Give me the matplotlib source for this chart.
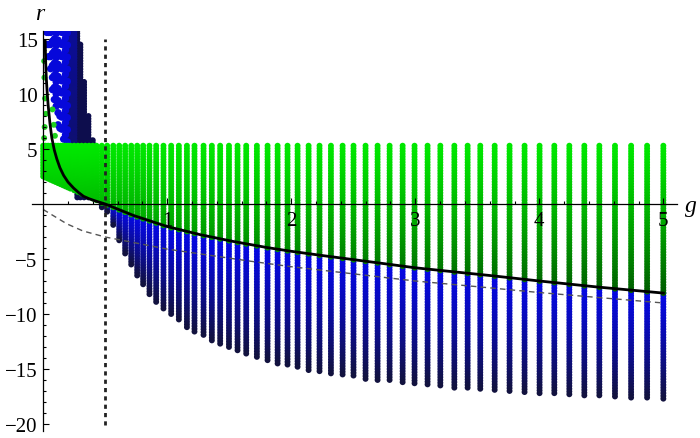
import numpy as np
import matplotlib
matplotlib.use("Agg")
import matplotlib.pyplot as plt

plt.rcParams["font.family"] = ["Liberation Serif", "DejaVu Serif"]

# ---- data ----
# solid black curve
curve_g = [0.016, 0.02, 0.025, 0.032, 0.04, 0.055, 0.07, 0.09, 0.11, 0.135, 0.165, 0.2,
           0.245, 0.285, 0.325, 0.37, 0.42, 0.5, 0.62, 0.73, 1.0, 1.27, 1.53, 1.8, 2.0,
           2.26, 2.53, 2.8, 3.0, 3.34, 3.6, 4.0, 4.47, 5.0]
curve_r = [14.8, 13.0, 11.5, 10.2, 9.0, 7.3, 6.0, 4.9, 4.1, 3.3, 2.6, 2.0,
           1.45, 1.05, 0.7, 0.48, 0.28, 0.0, -0.55, -1.05, -2.05, -2.8, -3.4, -3.95, -4.3,
           -4.7, -5.1, -5.5, -5.8, -6.2, -6.5, -7.0, -7.55, -8.1]

# thin dashed gray curve
dash_g = [0.0, 0.19, 0.32, 0.5, 1.0, 1.67, 2.0, 3.0, 3.53, 4.0, 5.0]
dash_r = [-0.5, -1.8, -2.45, -3.0, -4.1, -5.2, -5.7, -7.0, -7.55, -8.05, -9.0]

g_line = 0.5   # vertical dotted line

# right-hand columns: position and lowest (blue) point
col_g = [0.473, 0.516, 0.565, 0.613, 0.661, 0.710, 0.758, 0.806, 0.857, 0.911, 0.970,
         1.032, 1.094, 1.159, 1.220, 1.293, 1.360, 1.427, 1.498, 1.567, 1.637, 1.723,
         1.809, 1.890, 1.970, 2.051, 2.140, 2.228, 2.320, 2.414, 2.502, 2.599, 2.696,
         2.793, 2.898, 2.994, 3.099, 3.202, 3.315, 3.422, 3.524, 3.640, 3.760, 3.881,
         4.002, 4.121, 4.242, 4.363, 4.484, 4.610, 4.740, 4.869, 5.0]
col_bottom = [-0.3, -0.7, -1.9, -3.3, -4.5, -5.5, -6.5, -7.3, -8.2, -8.9, -9.5,
              -10.0, -10.5, -11.2, -11.6, -11.9, -12.4, -12.7, -13.0, -13.3, -13.6, -13.9,
              -14.2, -14.5, -14.6, -14.8, -15.1, -15.2, -15.4, -15.5, -15.6, -15.9, -16.0,
              -16.0, -16.2, -16.3, -16.4, -16.5, -16.7, -16.7, -16.8, -16.9, -17.0, -17.1,
              -17.2, -17.2, -17.3, -17.4, -17.4, -17.5, -17.6, -17.6, -17.7]
green_top = 5.3

# dense green block left of g = 0.5
left_g = [0.0, 0.02, 0.04, 0.06, 0.08, 0.10, 0.12, 0.14, 0.16, 0.18, 0.20, 0.22,
          0.25, 0.28, 0.31, 0.34, 0.37, 0.40, 0.43]
left_low = [2.5, 2.4, 2.3, 2.2, 2.1, 2.0, 1.9, 1.8, 1.7, 1.6, 1.5, 1.4,
            1.25, 1.1, 0.95, 0.8, 0.65, 0.5, 0.35]

# stray green points near the r axis
stray_g = [0.008, 0.010, 0.015, 0.022, 0.012, 0.008, 0.075, 0.085, 0.095]
stray_r = [13.0, 11.5, 9.6, 8.2, 7.0, 6.0, 8.6, 7.2, 6.2]

# blue cloud top-left (staggered columns)
cloud_g = [0.03, 0.045, 0.06, 0.075, 0.09, 0.105, 0.12, 0.135, 0.15, 0.165, 0.18, 0.195]
cloud_lo = [14.5, 13.0, 11.5, 10.3, 9.0, 8.0, 7.0, 6.3, 5.8, 5.6, 5.6, 5.6]
cloud_off = [0.0, 0.4, 0.8, 0.1, 0.5, 0.9, 0.2, 0.6, 1.0, 0.3, 0.7, 0.05]

mid_g = [0.21, 0.232, 0.252]
dark_g = [0.275, 0.30, 0.33, 0.365, 0.40]
dark_top = [16.0, 14.5, 11.1, 8.0, 5.8]

r_max, r_min = 15.73, -20.64


def dots(hi, lo, step=0.25):
    n = max(int(round((hi - lo) / step)), 0) + 1
    return np.linspace(hi, lo, n)


def green_rgb(r):
    t = np.clip((green_top - r) / 13.5, 0, 1)
    return np.column_stack([np.zeros_like(t), (232 - 140 * t ** 1.2) / 255, np.zeros_like(t)])


def blue_rgb(t):
    t = np.clip(t, 0, 1) ** 1.3
    return np.column_stack([0.02 + 0.05 * t, 0.03 + 0.04 * t, (228 - 165 * t) / 255])


fig = plt.figure(figsize=(7, 4.39), dpi=100)
ax = fig.add_axes([32 / 700, 1 - 432 / 439, 645 / 700, 400 / 439])
ax.set_xlim(-0.09, 5.11)
ax.set_ylim(r_min, r_max)

ms = 18

# dark columns top-left (underneath green)
for g, top in zip(dark_g, dark_top):
    rr = dots(top, 0.6)
    c = np.tile([[0.05, 0.05, 0.30]], (len(rr), 1))
    ax.scatter(np.full(len(rr), g), rr, s=ms, c=c, edgecolors="none", zorder=1)
for g in mid_g:
    rr = dots(16.0, 5.6)
    c = blue_rgb(np.linspace(0.55, 0.75, len(rr)))
    ax.scatter(np.full(len(rr), g), rr, s=ms, c=c, edgecolors="none", zorder=1)
for g, lo, off in zip(cloud_g, cloud_lo, cloud_off):
    rr = np.arange(lo + off, 16.2, 1.1)
    c = blue_rgb(np.full(len(rr), 0.12))
    ax.scatter(np.full(len(rr), g), rr, s=28, c=c, edgecolors="none", zorder=1)

# blue parts of right columns
for g, bot in zip(col_g, col_bottom):
    top = np.interp(g, curve_g, curve_r)
    rr = dots(top, bot)
    t = (top - rr) / max(top - bot, 1e-6)
    ax.scatter(np.full(len(rr), g), rr, s=ms, c=blue_rgb(t), edgecolors="none", zorder=1.2)

# green parts
for g, lo in zip(left_g, left_low):
    rr = dots(green_top, lo)
    ax.scatter(np.full(len(rr), g), rr, s=ms, c=green_rgb(rr), edgecolors="none", zorder=1.4)
for g in col_g:
    lo = np.interp(g, curve_g, curve_r)
    rr = dots(green_top, lo)
    ax.scatter(np.full(len(rr), g), rr, s=ms, c=green_rgb(rr), edgecolors="none", zorder=1.4)
ax.scatter(stray_g, stray_r, s=ms, c="#1fd01f", edgecolors="none", zorder=1.4)

# curves
ax.plot(dash_g, dash_r, color="#555555", lw=1.0, dashes=(4, 3), zorder=3)
ax.plot(curve_g, curve_r, color="black", lw=2.0, zorder=3.2)
ax.plot([g_line, g_line], [-20.1, 15.0], color="#222222", lw=2.0, dashes=(1.5, 1.5), zorder=3.1)

# Mathematica style axes through origin
for side in ["top", "right"]:
    ax.spines[side].set_visible(False)
ax.spines["left"].set_position(("data", 0))
ax.spines["bottom"].set_position(("data", 0))
for side in ["left", "bottom"]:
    ax.spines[side].set_linewidth(0.9)
    ax.spines[side].set_zorder(4)

ax.set_xticks([1, 2, 3, 4, 5])
ax.set_xticks([x / 5 for x in range(1, 26) if x % 5], minor=True)
ax.set_yticks([-20, -15, -10, -5, 5, 10, 15])
ax.set_yticks([y for y in range(-20, 16) if y % 5], minor=True)
ax.set_xticklabels(["1", "2", "3", "4", "5"])
ax.set_yticklabels(["\u221220", "\u221215", "\u221210", "\u22125", "5", "10", "15"])
ax.tick_params(which="both", direction="in", width=0.8, labelsize=15)
ax.tick_params(which="major", length=4)
ax.tick_params(which="minor", length=2.2)
ax.tick_params(axis="x", pad=5)
ax.tick_params(axis="y", pad=4)
for lab in ax.get_xticklabels() + ax.get_yticklabels():
    lab.set_zorder(5)

fig.text(691 / 700, 1 - 207 / 439, "g", style="italic", fontsize=17, ha="center", va="center")
fig.text(40 / 700, 1 - 14 / 439, "r", style="italic", fontsize=17, ha="center", va="center")

fig.savefig("out.png", dpi=100)
